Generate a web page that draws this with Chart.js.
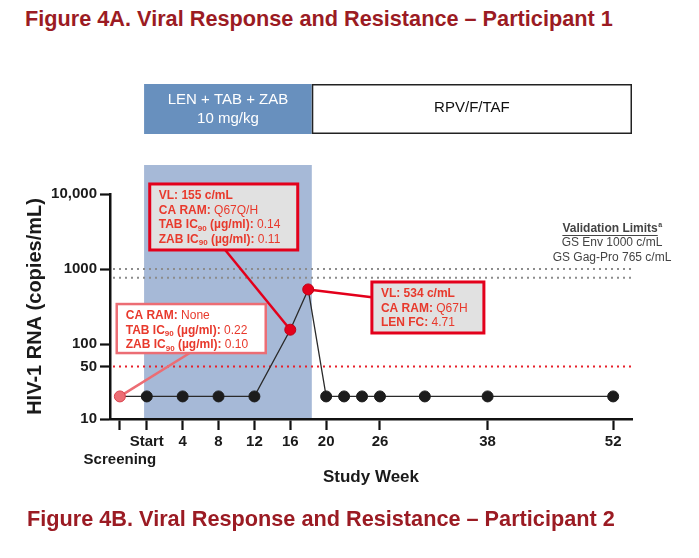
<!DOCTYPE html>
<html>
<head>
<meta charset="utf-8">
<script src="https://cdn.jsdelivr.net/npm/chart.js@4.4.1/dist/chart.umd.min.js"></script>
<style>
  html, body { margin:0; padding:0; background:#fff; }
  #wrap { position:relative; width:699px; height:558px; overflow:hidden; }
  canvas { position:absolute; left:0; top:0; }
  .fig { position:absolute; font-family:"Liberation Sans", Arial, sans-serif; font-weight:bold; font-size:21.7px; color:#9b1b23; white-space:nowrap; line-height:26px; }
</style>
</head>
<body>
<div id="wrap">
  <div class="fig" style="left:25px; top:6px;">Figure 4A. Viral Response and Resistance – Participant 1</div>
  <canvas id="c" width="699" height="558"></canvas>
  <div class="fig" style="left:27px; top:506px;">Figure 4B. Viral Response and Resistance – Participant 2</div>
</div>
<script>
// ---- data ----
const weeks = [-3, 0, 4, 8, 12, 16, 18, 20, 22, 24, 26, 31, 38, 52];
const rna   = [20, 20, 20, 20, 20, 155, 534, 20, 20, 20, 20, 20, 20, 20];
const pointKind = ['screen', 'n', 'n', 'n', 'n', 'red', 'red', 'n', 'n', 'n', 'n', 'n', 'n', 'n'];
const tickWeeks  = [-3, 0, 4, 8, 12, 16, 20, 26, 38, 52];
const tickLabels = ['Screening', 'Start', '4', '8', '12', '16', '20', '26', '38', '52'];
const yTicks      = [10, 50, 100, 1000, 10000];
const yTickLabels = ['10', '50', '100', '1000', '10,000'];
const validationLimits = [1000, 765];
const validationNames  = ['GS Env', 'GS Gag-Pro'];
const lloq = 50;
const phaseNames = [['LEN + TAB + ZAB', '10 mg/kg'], ['RPV/F/TAF']];
const phaseStart = [-0.3, 18.4];
const phaseEnd   = [18.4, 54.1];

const FONT = '"Liberation Sans", Arial, sans-serif';
const RED = '#e3001b', PINK = '#ec6d74', TXT = '#e8392c';

// annotation boxes (anchored in data coords)
const annotations = [
  { point: 5, x: 0.33, y: 13600, w: 148, h: 66, fill: '#e1e1e1', stroke: RED, lw: 3, conn: 'bottom', frac: 0.51,
    lines: [
      [{t: 'VL: ' + rna[5] + ' c/mL', b: 1}],
      [{t: 'CA RAM: ', b: 1}, {t: 'Q67Q/H'}],
      [{t: 'TAB IC', b: 1}, {t: '90', b: 1, sub: 1}, {t: ' (µg/ml): ', b: 1}, {t: '0.14'}],
      [{t: 'ZAB IC', b: 1}, {t: '90', b: 1, sub: 1}, {t: ' (µg/ml): ', b: 1}, {t: '0.11'}]
    ] },
  { point: 0, x: -3.35, y: 341, w: 149, h: 49, fill: '#ffffff', stroke: PINK, lw: 2.5, conn: 'bottom', frac: 0.49,
    lines: [
      [{t: 'CA RAM: ', b: 1}, {t: 'None'}],
      [{t: 'TAB IC', b: 1}, {t: '90', b: 1, sub: 1}, {t: ' (µg/ml): ', b: 1}, {t: '0.22'}],
      [{t: 'ZAB IC', b: 1}, {t: '90', b: 1, sub: 1}, {t: ' (µg/ml): ', b: 1}, {t: '0.10'}]
    ] },
  { point: 6, x: 25.1, y: 671, w: 112, h: 51, fill: '#e1e1e1', stroke: RED, lw: 3, conn: 'left', frac: 0.3,
    lines: [
      [{t: 'VL: ' + rna[6] + ' c/mL', b: 1}],
      [{t: 'CA RAM: ', b: 1}, {t: 'Q67H'}],
      [{t: 'LEN FC: ', b: 1}, {t: '4.71'}]
    ] }
];

function drawRich(ctx, x, y, segs, size, color) {
  let cx = x;
  segs.forEach(s => {
    const fs = s.sub ? Math.round(size * 0.68) : size;
    ctx.font = (s.b ? 'bold ' : '') + fs + 'px ' + FONT;
    ctx.fillStyle = color;
    ctx.textBaseline = 'middle';
    ctx.textAlign = 'left';
    ctx.fillText(s.t, cx, y + (s.sub ? size * 0.3 : 0));
    cx += ctx.measureText(s.t).width;
  });
}

const decorPlugin = {
  id: 'decor',
  beforeDatasetsDraw(chart) {
    const {ctx, chartArea: ca, scales: {x, y}} = chart;
    ctx.save();
    // treatment shading
    const sx0 = x.getPixelForValue(phaseStart[0]), sx1 = x.getPixelForValue(phaseEnd[0]);
    ctx.fillStyle = '#a6b9d7';
    ctx.fillRect(sx0, ca.top - 29, sx1 - sx0, ca.bottom - ca.top + 29 - 1);
    // validation limit lines
    ctx.lineWidth = 2;
    ctx.strokeStyle = '#8c8c8c';
    ctx.setLineDash([2, 4]);
    validationLimits.forEach(v => {
      const py = y.getPixelForValue(v);
      ctx.beginPath(); ctx.moveTo(ca.left + 3, py); ctx.lineTo(ca.right, py); ctx.stroke();
    });
    ctx.strokeStyle = '#e8202a';
    const py50 = y.getPixelForValue(lloq);
    ctx.beginPath(); ctx.moveTo(ca.left + 3, py50); ctx.lineTo(ca.right, py50); ctx.stroke();
    ctx.setLineDash([]);
    // connectors
    annotations.forEach(a => {
      const bx = x.getPixelForValue(a.x), by = y.getPixelForValue(a.y);
      let cx, cy;
      if (a.conn === 'bottom') { cx = bx + a.w * a.frac; cy = by + a.h; }
      else { cx = bx; cy = by + a.h * a.frac; }
      const px = x.getPixelForValue(weeks[a.point]), pyy = y.getPixelForValue(rna[a.point]);
      ctx.strokeStyle = a.stroke; ctx.lineWidth = 2.5;
      ctx.beginPath(); ctx.moveTo(cx, cy); ctx.lineTo(px, pyy); ctx.stroke();
    });
    ctx.restore();
  },
  afterDatasetsDraw(chart) {
    const {ctx, chartArea: ca, scales: {x, y}} = chart;
    ctx.save();
    // phase boxes above the plot
    const top = ca.top - 110, h = 50;
    const b0 = x.getPixelForValue(phaseStart[0]), b1 = x.getPixelForValue(phaseEnd[0]);
    ctx.fillStyle = '#6890be';
    ctx.fillRect(b0, top, b1 - b0, h);
    ctx.fillStyle = '#ffffff';
    ctx.font = '15px ' + FONT;
    ctx.textAlign = 'center'; ctx.textBaseline = 'middle';
    ctx.fillText(phaseNames[0][0], (b0 + b1) / 2, top + 16);
    ctx.fillText(phaseNames[0][1], (b0 + b1) / 2, top + 35);
    const r0 = x.getPixelForValue(phaseStart[1]), r1 = x.getPixelForValue(phaseEnd[1]);
    ctx.fillStyle = '#fff';
    ctx.fillRect(r0, top, r1 - r0, h);
    ctx.strokeStyle = '#222'; ctx.lineWidth = 1.5;
    ctx.strokeRect(r0 + 0.75, top + 0.75, r1 - r0 - 1.5, h - 1.5);
    ctx.fillStyle = '#111';
    ctx.fillText(phaseNames[1][0], (r0 + r1) / 2, top + 24);
    // annotation boxes
    annotations.forEach(a => {
      const bx = x.getPixelForValue(a.x), by = y.getPixelForValue(a.y);
      ctx.fillStyle = a.fill;
      ctx.fillRect(bx, by, a.w, a.h);
      ctx.strokeStyle = a.stroke; ctx.lineWidth = a.lw;
      ctx.strokeRect(bx, by, a.w, a.h);
      a.lines.forEach((ln, i) => drawRich(ctx, bx + 9, by + 12 + i * 14.5, ln, 12, TXT));
    });
    // validation limits legend
    const vx = 612;
    const vy = y.getPixelForValue(validationLimits[0]) - 40;
    ctx.fillStyle = '#444';
    ctx.textAlign = 'center'; ctx.textBaseline = 'middle';
    ctx.font = 'bold 12px ' + FONT;
    const t = 'Validation Limits';
    const tw = ctx.measureText(t).width;
    ctx.font = 'bold 7px ' + FONT;
    const aw = ctx.measureText('a').width;
    const startX = vx - (tw + aw) / 2;
    ctx.textAlign = 'left';
    ctx.font = 'bold 12px ' + FONT;
    ctx.fillText(t, startX, vy);
    ctx.fillRect(startX, vy + 6, tw, 1);
    ctx.font = 'bold 7px ' + FONT;
    ctx.fillText('a', startX + tw + 0.5, vy - 4);
    ctx.textAlign = 'center';
    ctx.font = '12px ' + FONT;
    validationNames.forEach((n, i) => ctx.fillText(n + ' ' + validationLimits[i] + ' c/mL', vx, vy + 14 + i * 15));
    ctx.restore();
  }
};

const ptFill = pointKind.map(k => k === 'screen' ? '#ec6d74' : k === 'red' ? RED : '#1c1c1c');
const ptBorder = pointKind.map(k => k === 'screen' ? '#d9414c' : k === 'red' ? '#c00015' : '#1c1c1c');

new Chart(document.getElementById('c'), {
  type: 'scatter',
  data: {
    datasets: [{
      data: weeks.map((w, i) => ({x: w, y: rna[i]})),
      showLine: true,
      borderColor: '#2a2a2a',
      borderWidth: 1.3,
      pointRadius: 5.5,
      pointBackgroundColor: ptFill,
      pointBorderColor: ptBorder,
      pointBorderWidth: 1
    }]
  },
  options: {
    responsive: false,
    animation: false,
    layout: { padding: { top: 194, right: 67, bottom: 66, left: 19 } },
    plugins: { legend: { display: false }, tooltip: { enabled: false } },
    scales: {
      x: {
        type: 'linear', min: -4.1, max: 54.1,
        afterBuildTicks: s => { s.ticks = tickWeeks.map(v => ({value: v})); },
        afterFit: s => { s.height = 73; },
        ticks: {
          autoSkip: false, maxRotation: 0, padding: 3,
          color: '#1a1a1a', font: { family: FONT, size: 15, weight: 'bold' },
          callback: (v, i) => i === 0 ? ['', tickLabels[0]] : tickLabels[i]
        },
        grid: { drawOnChartArea: false, drawTicks: true, tickLength: 11, tickColor: '#111', tickWidth: 2.2 },
        border: { display: true, color: '#111', width: 2.5 },
        title: { display: true, text: 'Study Week', color: '#1a1a1a', font: { family: FONT, size: 17, weight: 'bold' } }
      },
      y: {
        type: 'logarithmic', min: 10, max: 10000,
        afterBuildTicks: s => { s.ticks = yTicks.map(v => ({value: v})); },
        afterFit: s => { s.width = 91; },
        ticks: {
          padding: 3, color: '#1a1a1a', font: { family: FONT, size: 15, weight: 'bold' },
          callback: (v, i) => yTickLabels[i]
        },
        grid: { drawOnChartArea: false, drawTicks: true, tickLength: 10, tickColor: '#111', tickWidth: 2.2 },
        border: { display: true, color: '#111', width: 2.5 },
        title: { display: true, text: 'HIV-1 RNA (copies/mL)', color: '#1a1a1a', font: { family: FONT, size: 20, weight: 'bold' } }
      }
    }
  },
  plugins: [decorPlugin]
});
</script>
</body>
</html>
